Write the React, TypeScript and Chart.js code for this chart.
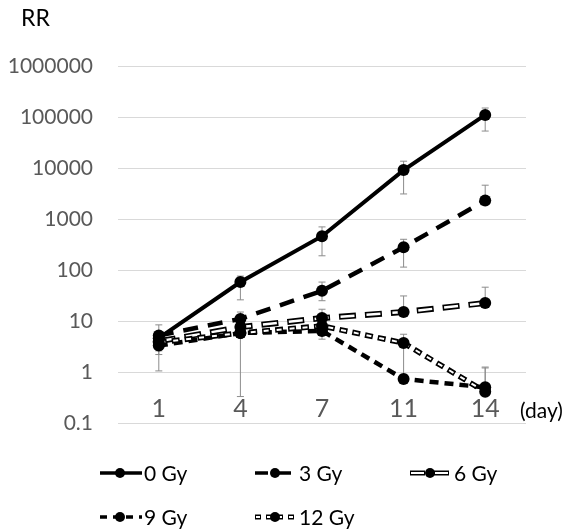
import React, { useEffect, useRef } from 'react';
import { Chart, registerables } from 'chart.js';

Chart.register(...registerables);

// ---- data ----
const days = ['1', '4', '7', '11', '14'];
const yTickValues = [0.1, 1, 10, 100, 1000, 10000, 100000, 1000000];
const seriesNames = ['0 Gy', '3 Gy', '6 Gy', '9 Gy', '12 Gy'];

const gy0 = [4.6, 58, 460, 9100, 110000];
const gy0Hi = [8.4, 76, 700, 13600, 150000];
const gy0Lo = [null, 26, 190, 3100, 53000];

const gy3 = [5.2, 11, 39, 280, 2300];
const gy3Hi = [null, 15, 58, 400, 4600];
const gy3Lo = [null, null, 25, 114, null];

const gy6 = [4.0, 7.6, 11.4, 15, 22.5];
const gy6Hi = [null, null, 17, 31, 46];
const gy6Lo = [2.6, null, null, null, null];

const gy9 = [3.3, 5.8, 6.4, 0.73, 0.5];
const gy9Hi = [null, null, null, null, 1.2];
const gy9Lo = [1.05, 0.33, null, null, null];

const gy12 = [3.8, 5.8, 8.0, 3.7, 0.41];
const gy12Hi = [null, null, null, 5.5, 1.25];
const gy12Lo = [2.2, null, 4.4, 0.9, null];

const seriesValues = [gy0, gy3, gy6, gy9, gy12];
const seriesHi = [gy0Hi, gy3Hi, gy6Hi, gy9Hi, gy12Hi];
const seriesLo = [gy0Lo, gy3Lo, gy6Lo, gy9Lo, gy12Lo];

// ---- styles ----
const FONT = 'Lato, "Open Sans", sans-serif';
type Sty = { dash: number[]; width: number; double: boolean };
const styles: Sty[] = [
  { dash: [], width: 4, double: false },
  { dash: [15, 10], width: 4.5, double: false },
  { dash: [17, 9], width: 6, double: true },
  { dash: [9, 6], width: 4.5, double: false },
  { dash: [8, 5], width: 5.5, double: true },
];
const legendPos = [
  { x: 100, y: 473 },
  { x: 255, y: 473 },
  { x: 410, y: 473 },
  { x: 100, y: 517 },
  { x: 255, y: 517 },
];

function buildDatasets() {
  const ds: any[] = [];
  seriesValues.forEach((vals, i) => {
    const s = styles[i];
    const base = i * 2;
    if (s.double) {
      ds.push({
        label: seriesNames[i] + ' outline',
        data: vals,
        borderColor: '#000',
        borderWidth: s.width,
        borderDash: s.dash,
        pointRadius: 0,
        order: 20 - base,
      });
      ds.push({
        label: seriesNames[i],
        data: vals,
        borderColor: '#fff',
        borderWidth: s.width - 3.5,
        borderDash: [s.dash[0] - 3, s.dash[1] + 3],
        borderDashOffset: -1.5,
        pointRadius: 6,
        pointBackgroundColor: '#000',
        pointBorderColor: '#000',
        pointBorderWidth: 0,
        order: 20 - base - 1,
      });
    } else {
      ds.push({
        label: seriesNames[i],
        data: vals,
        borderColor: '#000',
        borderWidth: s.width,
        borderDash: s.dash,
        pointRadius: 6,
        pointBackgroundColor: '#000',
        pointBorderColor: '#000',
        pointBorderWidth: 0,
        order: 20 - base - 1,
      });
    }
  });
  return ds;
}

const errorBarPlugin = {
  id: 'errorBars',
  beforeDatasetsDraw(chart: any) {
    const { ctx, scales } = chart;
    const xs = scales.x;
    const ys = scales.y;
    ctx.save();
    ctx.strokeStyle = '#8c8c8c';
    ctx.lineWidth = 1;
    ctx.setLineDash([]);
    seriesValues.forEach((vals, si) => {
      vals.forEach((v, i) => {
        const x = xs.getPixelForValue(i);
        const y = ys.getPixelForValue(v);
        const ends = [seriesHi[si][i], seriesLo[si][i]];
        ends.forEach((e) => {
          if (e == null) return;
          const ye = ys.getPixelForValue(e);
          ctx.beginPath();
          ctx.moveTo(x, y);
          ctx.lineTo(x, ye);
          ctx.moveTo(x - 3.5, ye);
          ctx.lineTo(x + 3.5, ye);
          ctx.stroke();
        });
      });
    });
    ctx.restore();
  },
};

const extrasPlugin = {
  id: 'extras',
  afterDraw(chart: any) {
    const { ctx } = chart;
    ctx.save();
    ctx.fillStyle = '#000';
    ctx.textBaseline = 'middle';
    ctx.textAlign = 'left';
    ctx.font = `23px ${FONT}`;
    ctx.fillText('RR', 21, 19);
    ctx.font = `21px ${FONT}`;
    ctx.fillText('(day)', 520, 411);

    // legend
    seriesNames.forEach((name, i) => {
      const s = styles[i];
      const p = legendPos[i];
      ctx.lineCap = 'butt';
      ctx.beginPath();
      ctx.moveTo(p.x, p.y);
      ctx.lineTo(p.x + 42, p.y);
      ctx.strokeStyle = '#000';
      ctx.lineWidth = s.double ? 5 : 3.5;
      ctx.setLineDash(s.dash.length ? [s.dash[0] - 2, s.dash[1]] : []);
      ctx.stroke();
      if (s.double) {
        ctx.beginPath();
        ctx.moveTo(p.x, p.y);
        ctx.lineTo(p.x + 42, p.y);
        ctx.strokeStyle = '#fff';
        ctx.lineWidth = 2;
        ctx.setLineDash([s.dash[0] - 4, s.dash[1] + 2]);
        ctx.lineDashOffset = -1;
        ctx.stroke();
        ctx.lineDashOffset = 0;
      }
      ctx.setLineDash([]);
      ctx.beginPath();
      ctx.fillStyle = '#000';
      ctx.arc(p.x + 20, p.y, 5, 0, Math.PI * 2);
      ctx.fill();
      ctx.font = `21px ${FONT}`;
      ctx.fillStyle = '#000';
      ctx.fillText(name, p.x + 44, p.y + 1);
    });
    ctx.restore();
  },
};

export default function App() {
  const ref = useRef<HTMLCanvasElement | null>(null);
  useEffect(() => {
    if (!ref.current) return;
    const chart = new Chart(ref.current, {
      type: 'line',
      data: { labels: days, datasets: buildDatasets() },
      options: {
        responsive: false,
        animation: false,
        events: [],
        layout: { padding: { top: 66, bottom: 107, right: 47, left: 0 } },
        plugins: { legend: { display: false }, tooltip: { enabled: false } },
        scales: {
          x: {
            type: 'category',
            offset: true,
            position: { y: 1 } as any,
            grid: { display: false, drawTicks: false },
            border: { display: false },
            ticks: {
              color: '#595959',
              font: { family: FONT, size: 25 },
              padding: 22,
              maxRotation: 0,
            },
          },
          y: {
            type: 'logarithmic',
            min: 0.1,
            max: 1000000,
            afterBuildTicks(scale: any) {
              scale.ticks = yTickValues.map((v) => ({ value: v }));
            },
            afterFit(scale: any) {
              scale.width = 118;
            },
            grid: { color: '#d9d9d9', lineWidth: 1, drawTicks: false },
            border: { display: false },
            ticks: {
              color: '#595959',
              font: { family: FONT, size: 21 },
              padding: 25,
              callback: (v: any) => String(Number(v)),
            },
          },
        },
      },
      plugins: [errorBarPlugin, extrasPlugin],
    });
    return () => chart.destroy();
  }, []);
  return (
    <div style={{ position: 'absolute', left: 0, top: 0, width: 573, height: 530, background: '#fff' }}>
      <canvas ref={ref} width={573} height={530} />
    </div>
  );
}
